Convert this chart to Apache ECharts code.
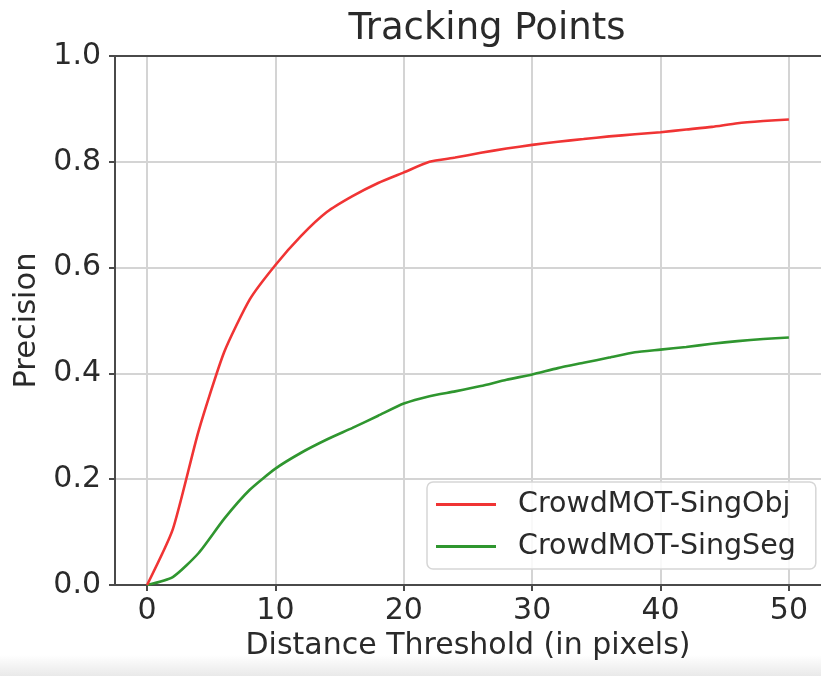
<!DOCTYPE html>
<html>
<head>
<meta charset="utf-8">
<script src="https://cdn.jsdelivr.net/npm/echarts@6/dist/echarts.min.js"></script>
<style>
  html, body { margin: 0; padding: 0; }
  body { width: 821px; height: 676px; background: linear-gradient(to bottom, #ffffff 0px, #ffffff 655px, #e9e9e9 676px); }
  #chart { width: 821px; height: 676px; }
</style>
</head>
<body>
<div id="chart"></div>
<script>
const thresholds = [0, 2, 4, 6, 8, 10, 12, 14, 16, 18, 20, 22, 24, 26, 28, 30, 32, 34, 36, 38, 40, 42, 44, 46, 48, 50];
const singObj = [0, 0.105, 0.29, 0.44, 0.54, 0.605, 0.66, 0.705, 0.735, 0.76, 0.78, 0.80, 0.808, 0.817, 0.825, 0.832, 0.838, 0.843, 0.848, 0.852, 0.856, 0.861, 0.866, 0.873, 0.877, 0.880];
const singSeg = [0, 0.015, 0.06, 0.125, 0.18, 0.22, 0.25, 0.275, 0.297, 0.32, 0.343, 0.357, 0.366, 0.376, 0.388, 0.398, 0.41, 0.42, 0.43, 0.44, 0.445, 0.45, 0.456, 0.461, 0.465, 0.468];
const xTicks = [0, 10, 20, 30, 40, 50];
const seriesNames = ['CrowdMOT-SingObj', 'CrowdMOT-SingSeg'];
const titleText = 'Tracking Points';
const xName = 'Distance Threshold (in pixels)';
const yName = 'Precision';

const FONT = 'DejaVu Sans';
const TXT = '#2a2a2a';
const SPINE = '#4a4a4a';
const GRIDC = '#d4d4d4';
const chart = echarts.init(document.getElementById('chart'), null, { renderer: 'canvas' });
const pair = (xs, ys) => xs.map((x, i) => [x, ys[i]]);

chart.setOption({
  backgroundColor: 'transparent',
  animation: false,
  title: {
    text: titleText,
    left: 482, top: 6, textAlign: 'center',
    textStyle: { fontFamily: FONT, fontSize: 37, fontWeight: 'normal', color: TXT }
  },
  grid: {
    left: 115, top: 56, height: 529, width: 710,
    show: false
  },
  legend: {
    orient: 'vertical',
    left: 427, top: 482,
    data: seriesNames,
    icon: 'rect',
    itemWidth: 60, itemHeight: 3,
    itemGap: 13,
    padding: [8, 20, 8, 9],
    backgroundColor: 'rgba(255,255,255,0.85)',
    borderColor: '#d6d6d6', borderWidth: 1.5, borderRadius: 6,
    textStyle: { fontFamily: FONT, fontSize: 28.5, color: TXT, padding: [0, 0, 0, 17], lineHeight: 28 }
  },
  xAxis: [
    {
      type: 'value',
      min: -2.5, max: 52.5,
      name: xName, nameLocation: 'middle', nameGap: 46,
      nameTextStyle: { fontFamily: FONT, fontSize: 30, color: TXT },
      axisLine: { show: true, onZero: false, lineStyle: { color: SPINE, width: 2 } },
      axisTick: { show: true, length: 6, customValues: xTicks, lineStyle: { color: SPINE, width: 2 } },
      axisLabel: { customValues: xTicks, fontFamily: FONT, fontSize: 30, color: TXT, margin: 11 },
      splitLine: { show: true, lineStyle: { color: GRIDC, width: 2 } }
    },
    {
      type: 'value', position: 'top',
      min: -2.5, max: 52.5,
      axisLine: { show: true, onZero: false, lineStyle: { color: SPINE, width: 2 } },
      axisTick: { show: false }, axisLabel: { show: false }, splitLine: { show: false }
    }
  ],
  yAxis: {
    type: 'value',
    min: 0, max: 1, interval: 0.2,
    name: yName, nameLocation: 'middle', nameGap: 66,
    nameTextStyle: { fontFamily: FONT, fontSize: 30.5, color: TXT },
    axisLine: { show: true, onZero: false, lineStyle: { color: SPINE, width: 2 } },
    axisTick: { show: true, length: 6, lineStyle: { color: SPINE, width: 2 } },
    axisLabel: { fontFamily: FONT, fontSize: 30, color: TXT, margin: 14, formatter: v => v.toFixed(1) },
    splitLine: { show: true, lineStyle: { color: GRIDC, width: 2 } }
  },
  series: [
    {
      name: seriesNames[0], type: 'line', data: pair(thresholds, singObj),
      showSymbol: false, symbol: 'none', smooth: 0.2,
      lineStyle: { color: '#f03434', width: 2.6 }, itemStyle: { color: '#f03434' }, z: 3
    },
    {
      name: seriesNames[1], type: 'line', data: pair(thresholds, singSeg),
      showSymbol: false, symbol: 'none', smooth: 0.2,
      lineStyle: { color: '#2f962f', width: 2.6 }, itemStyle: { color: '#2f962f' }, z: 2
    }
  ]
});
</script>
</body>
</html>
